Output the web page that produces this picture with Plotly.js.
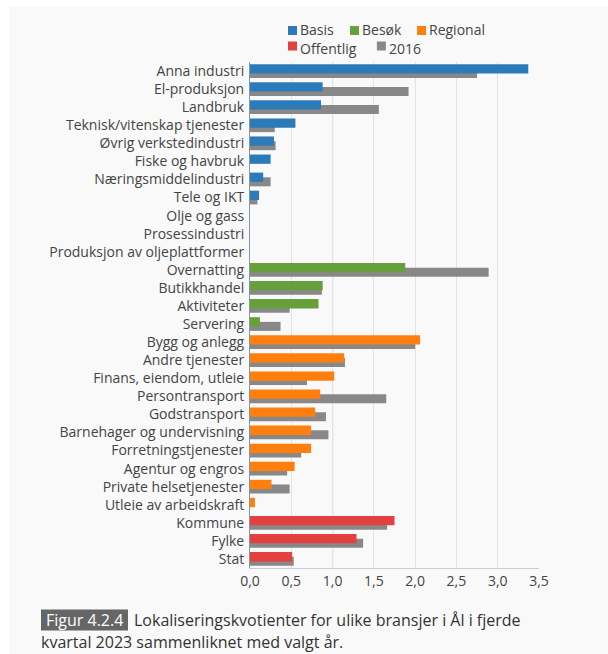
<!DOCTYPE html>
<html>
<head>
<meta charset="utf-8">
<script src="https://cdn.plot.ly/plotly-3.0.1.min.js"></script>
<style>
  html, body { margin: 0; padding: 0; background: #ffffff; }
  #chart { position: absolute; left: 9px; top: 7px; width: 599px; height: 647px; }
</style>
</head>
<body>
<div id="chart"></div>
<script>
// ---- Data ----
const basisCats = ["Anna industri", "El-produksjon", "Landbruk", "Teknisk/vitenskap tjenester",
  "Øvrig verkstedindustri", "Fiske og havbruk", "Næringsmiddelindustri", "Tele og IKT",
  "Olje og gass", "Prosessindustri", "Produksjon av oljeplattformer"];
const basisVals = [3.37, 0.88, 0.86, 0.55, 0.29, 0.25, 0.16, 0.11, null, null, null];

const besokCats = ["Overnatting", "Butikkhandel", "Aktiviteter", "Servering"];
const besokVals = [1.88, 0.88, 0.83, 0.12];

const regionalCats = ["Bygg og anlegg", "Andre tjenester", "Finans, eiendom, utleie", "Persontransport",
  "Godstransport", "Barnehager og undervisning", "Forretningstjenester", "Agentur og engros",
  "Private helsetjenester", "Utleie av arbeidskraft"];
const regionalVals = [2.06, 1.14, 1.02, 0.85, 0.79, 0.74, 0.74, 0.54, 0.26, 0.06];

const offentligCats = ["Kommune", "Fylke", "Stat"];
const offentligVals = [1.75, 1.29, 0.51];

const categories = basisCats.concat(besokCats, regionalCats, offentligCats);
const vals2016 = [2.75, 1.92, 1.56, 0.30, 0.31, null, 0.25, 0.09, null, null, null,
  2.89, 0.87, 0.48, 0.37,
  2.00, 1.15, 0.69, 1.65, 0.92, 0.95, 0.62, 0.45, 0.48, null,
  1.66, 1.37, 0.53];

const seriesNames = ["Basis", "Besøk", "Regional", "Offentlig", "2016"];
const seriesColors = ["#2b7bba", "#66a03a", "#ff7f0e", "#e3403f", "#888888"];
const xTicks = [0, 0.5, 1, 1.5, 2, 2.5, 3, 3.5];
const captionLabel = "Figur 4.2.4";
const captionLine1 = "Lokaliseringskvotienter for ulike bransjer i Ål i fjerde";
const captionLine2 = "kvartal 2023 sammenliknet med valgt år.";

// ---- Traces ----
const FONT = "Open Sans, Noto Sans, sans-serif";
function colored(name, cats, vals, color) {
  return {
    type: "bar", orientation: "h", name: name,
    y: cats, x: vals,
    offset: -0.38, width: 0.515,
    marker: { color: color, line: { width: 0 } },
    hoverinfo: "x+y", showlegend: false
  };
}
const traces = [
  {
    type: "bar", orientation: "h", name: seriesNames[4],
    y: categories, x: vals2016,
    offset: -0.12, width: 0.5,
    marker: { color: seriesColors[4], line: { width: 0 } },
    hoverinfo: "x+y", showlegend: false
  },
  colored(seriesNames[0], basisCats, basisVals, seriesColors[0]),
  colored(seriesNames[1], besokCats, besokVals, seriesColors[1]),
  colored(seriesNames[2], regionalCats, regionalVals, seriesColors[2]),
  colored(seriesNames[3], offentligCats, offentligVals, seriesColors[3])
];

// ---- Legend (manual, drawn as shapes + annotations) ----
const legendSplit = 1.0464;
const squareY = [1.0623, 1.0316];
const legendItems = [
  { i: 0, sx: 0.1315, tx: 0.172, row: 0 },
  { i: 1, sx: 0.346, tx: 0.387, row: 0 },
  { i: 2, sx: 0.578, tx: 0.619, row: 0 },
  { i: 3, sx: 0.1315, tx: 0.172, row: 1 },
  { i: 4, sx: 0.439, tx: 0.480, row: 1 }
];
const shapes = [
  { type: "line", xref: "x", yref: "paper", x0: 1, x1: 1, y0: 0, y1: 1,
    line: { color: "#8798a5", width: 1 }, layer: "below" }
];
const annotations = [];
legendItems.forEach(it => {
  shapes.push({
    type: "rect", xref: "paper", yref: "paper",
    xsizemode: "pixel", ysizemode: "pixel",
    xanchor: it.sx, yanchor: squareY[it.row],
    x0: 0, x1: 9, y0: -4.5, y1: 4.5,
    fillcolor: seriesColors[it.i], line: { width: 0 }
  });
  annotations.push({
    xref: "paper", yref: "paper", x: it.tx, y: legendSplit,
    xanchor: "left", yanchor: it.row === 0 ? "bottom" : "top",
    showarrow: false,
    text: seriesNames[it.i], borderpad: 0, borderwidth: 0,
    font: { family: FONT, size: 14, color: "#444444" }
  });
});
// caption box
shapes.push({
  type: "rect", xref: "paper", yref: "paper",
  xsizemode: "pixel", ysizemode: "pixel",
  xanchor: -0.7232, yanchor: -0.1028,
  x0: 0, x1: 87, y0: -10.5, y1: 10.5,
  fillcolor: "#666666", line: { width: 0 }
});
annotations.push({
  xref: "paper", yref: "paper", x: -0.5727, y: -0.1028,
  xanchor: "center", yanchor: "middle", showarrow: false,
  text: captionLabel, borderpad: 0, borderwidth: 0,
  font: { family: FONT, size: 16, color: "#ffffff" }
});
annotations.push({
  xref: "paper", yref: "paper", x: -0.4014, y: -0.1028,
  xanchor: "left", yanchor: "middle", showarrow: false,
  text: captionLine1, borderpad: 0, borderwidth: 0,
  font: { family: FONT, size: 16, color: "#333333" }
});
annotations.push({
  xref: "paper", yref: "paper", x: -0.7232, y: -0.1462,
  xanchor: "left", yanchor: "middle", showarrow: false,
  text: captionLine2, borderpad: 0, borderwidth: 0,
  font: { family: FONT, size: 16, color: "#333333" }
});

const layout = {
  width: 599, height: 647,
  margin: { l: 241, r: 69, t: 55, b: 86, pad: 0 },
  paper_bgcolor: "#f9f9f9", plot_bgcolor: "rgba(0,0,0,0)",
  separators: ", ",
  barmode: "overlay",
  showlegend: false,
  font: { family: FONT, size: 14, color: "#444444" },
  xaxis: {
    range: [0, 3.5], tickvals: xTicks, tickformat: ".1f",
    showgrid: true, gridcolor: "#dfe4e8", gridwidth: 1,
    zeroline: false, showline: true, linecolor: "#c5cdd5", linewidth: 1,
    ticks: "", tickfont: { family: FONT, size: 14, color: "#444444" },
    fixedrange: true
  },
  yaxis: {
    type: "category", categoryorder: "array", categoryarray: categories,
    range: [categories.length - 0.5, -0.5],
    showgrid: false, zeroline: false,
    showline: true, linecolor: "#8798a5", linewidth: 1,
    ticks: "", ticklabelstandoff: 2,
    tickfont: { family: FONT, size: 14, color: "#444444" },
    fixedrange: true
  },
  shapes: shapes,
  annotations: annotations
};

Plotly.newPlot("chart", traces, layout, { displayModeBar: false, staticPlot: true });
</script>
</body>
</html>
